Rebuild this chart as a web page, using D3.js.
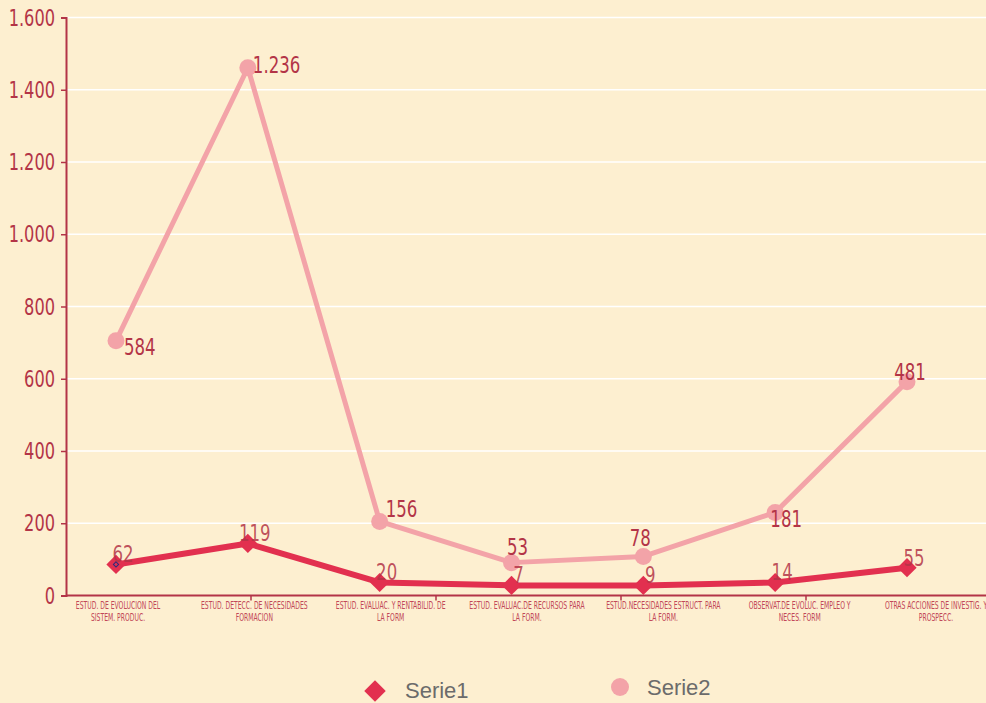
<!DOCTYPE html>
<html>
<head>
<meta charset="utf-8">
<script src="https://cdn.jsdelivr.net/npm/d3@7"></script>
<style>
  html, body { margin: 0; padding: 0; background: #fdefd0; }
  svg { display: block; }
</style>
</head>
<body>
<div id="chart"></div>
<script>
// categories (two-line labels)
const categories = [
  ["ESTUD. DE EVOLUCION DEL", "SISTEM. PRODUC."],
  ["ESTUD. DETECC. DE NECESIDADES", "FORMACION"],
  ["ESTUD. EVALUAC. Y RENTABILID. DE", "LA FORM"],
  ["ESTUD. EVALUAC.DE RECURSOS PARA", "LA FORM."],
  ["ESTUD.NECESIDADES ESTRUCT. PARA", "LA FORM."],
  ["OBSERVAT.DE EVOLUC. EMPLEO Y", "NECES. FORM"],
  ["OTRAS ACCIONES DE INVESTIG. Y", "PROSPECC."]
];

// plotted values
const serie1 = [86, 144, 36, 28, 28, 36, 77];
const serie2 = [705, 1461, 205, 91, 108, 230, 592];

// data labels printed on the chart
const serie1Labels = ["62", "119", "20", "7", "9", "14", "55"];
const serie2Labels = ["584", "1.236", "156", "53", "78", "181", "481"];

const yTicks = [0, 200, 400, 600, 800, 1000, 1200, 1400, 1600];
const seriesNames = ["Serie1", "Serie2"];

// label placement for serie2 (dx, dy, anchor)
const s2Place = [
  [8, 14, "start"], [5, 5, "start"], [6, -4, "start"], [6, -8, "middle"],
  [-3, -10, "middle"], [11, 15, "middle"], [3, -2, "middle"]
];

const width = 986, height = 703;
const margin = { top: 17.5, right: 0, bottom: 107.5, left: 66 };

const svg = d3.select("#chart").append("svg")
  .attr("width", width)
  .attr("height", height)
  .style("background", "#fdefd0");

const y = d3.scaleLinear().domain([0, 1600]).range([595.5, 17.5]);
const x = d3.scalePoint().domain(d3.range(categories.length)).range([116, 907]);
const xLab = d3.scalePoint().domain(d3.range(categories.length)).range([118, 936]);

const axisColor = "#b33447";
const textColor = "#b33447";
const c1 = "#e2304f";
const c2 = "#f3a3a8";
const narrow = "'DejaVu Sans Condensed', 'DejaVu Sans', sans-serif";

// condensed text helper
function ctext(g, px, py, str, anchor, sx, size) {
  return g.append("text")
    .attr("transform", `translate(${px},${py}) scale(${sx},1)`)
    .attr("text-anchor", anchor)
    .style("font-family", narrow)
    .style("font-size", size + "px")
    .text(str);
}

// grid
svg.append("g")
  .selectAll("line")
  .data(yTicks.filter(d => d > 0))
  .join("line")
  .attr("x1", margin.left)
  .attr("x2", width)
  .attr("y1", d => y(d))
  .attr("y2", d => y(d))
  .attr("stroke", "#ffffff")
  .attr("stroke-width", 1.5);

// y axis
const yAxis = svg.append("g")
  .attr("transform", `translate(${margin.left},0)`)
  .call(d3.axisLeft(y).tickValues(yTicks).tickSize(5).tickFormat(""));
yAxis.select(".domain").attr("stroke", axisColor).attr("stroke-width", 2);
yAxis.selectAll(".tick line").attr("stroke", axisColor).attr("stroke-width", 1.5);

const yLab = svg.append("g").attr("fill", textColor);
yTicks.forEach(t => {
  ctext(yLab, 55, y(t) + 8, d3.format(",")(t).replace(/,/g, "."), "end", 0.8, 22.5);
});

// x axis line + small ticks
const xTickScale = d3.scaleLinear().domain([0, 5]).range([margin.left, 991]);
svg.append("line")
  .attr("x1", margin.left).attr("x2", width)
  .attr("y1", y(0)).attr("y2", y(0))
  .attr("stroke", axisColor).attr("stroke-width", 2);
svg.append("g")
  .selectAll("line")
  .data([1, 2, 3, 4])
  .join("line")
  .attr("x1", d => xTickScale(d)).attr("x2", d => xTickScale(d))
  .attr("y1", y(0)).attr("y2", y(0) + 5)
  .attr("stroke", axisColor).attr("stroke-width", 1.5);

// category labels
const catG = svg.append("g").attr("fill", "#c24858");
categories.forEach((lines, i) => {
  lines.forEach((t, j) => {
    ctext(catG, xLab(i), 609 + j * 12, t, "middle", 0.64, 10.6);
  });
});

const line = d3.line().x((d, i) => x(i)).y(d => y(d));

// serie2
svg.append("path")
  .datum(serie2)
  .attr("d", line)
  .attr("fill", "none")
  .attr("stroke", c2)
  .attr("stroke-width", 5)
  .attr("stroke-linejoin", "round");
svg.append("g")
  .selectAll("circle")
  .data(serie2)
  .join("circle")
  .attr("cx", (d, i) => x(i))
  .attr("cy", d => y(d))
  .attr("r", 8.5)
  .attr("fill", c2);

// serie1
svg.append("path")
  .datum(serie1)
  .attr("d", line)
  .attr("fill", "none")
  .attr("stroke", c1)
  .attr("stroke-width", 6)
  .attr("stroke-linejoin", "round");
svg.append("g")
  .selectAll("path")
  .data(serie1)
  .join("path")
  .attr("transform", (d, i) => `translate(${x(i)},${y(d)}) rotate(45)`)
  .attr("d", d3.symbol().type(d3.symbolSquare).size(185))
  .attr("fill", c1);

// tiny selection marker on first point
svg.append("path")
  .attr("transform", `translate(${x(0)},${y(serie1[0])}) rotate(45)`)
  .attr("d", d3.symbol().type(d3.symbolSquare).size(14))
  .attr("fill", "none")
  .attr("stroke", "#2b2b7d")
  .attr("stroke-width", 1);

// data labels
const l2 = svg.append("g").attr("fill", textColor);
serie2.forEach((d, i) => {
  ctext(l2, x(i) + s2Place[i][0], y(d) + s2Place[i][1], serie2Labels[i], s2Place[i][2], 0.82, 22.5);
});
const l1 = svg.append("g").attr("fill", textColor).attr("fill-opacity", 0.85);
serie1.forEach((d, i) => {
  ctext(l1, x(i) + 7, y(d) - 2, serie1Labels[i], "middle", 0.82, 22.5);
});

// legend
const legend = svg.append("g")
  .style("font-family", "'Liberation Sans', Arial, sans-serif")
  .style("font-size", "22px")
  .attr("fill", "#6b6b6b");
legend.append("path")
  .attr("transform", "translate(375,691) rotate(45)")
  .attr("d", d3.symbol().type(d3.symbolSquare).size(230))
  .attr("fill", c1);
legend.append("text").attr("x", 405).attr("y", 698).text(seriesNames[0]);
legend.append("circle").attr("cx", 620).attr("cy", 687).attr("r", 9).attr("fill", c2);
legend.append("text").attr("x", 647).attr("y", 695).text(seriesNames[1]);
</script>
</body>
</html>
